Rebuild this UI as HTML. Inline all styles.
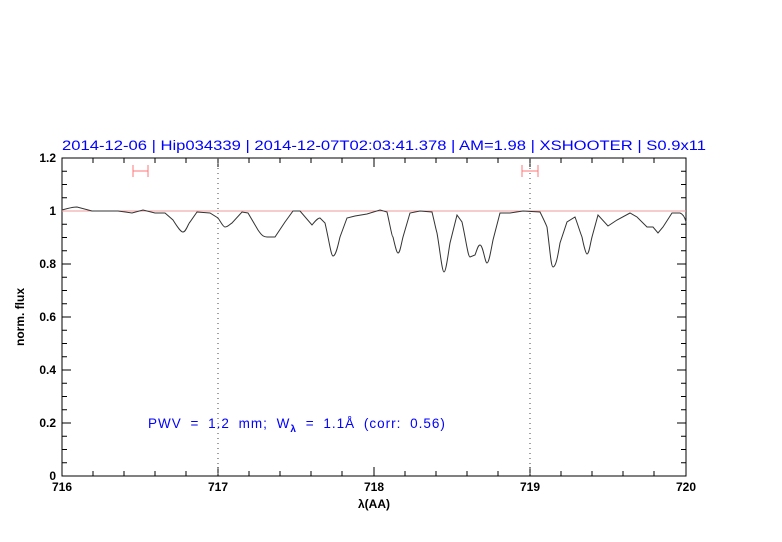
<!DOCTYPE html>
<html><head><meta charset="utf-8"><style>body{margin:0;background:#fff}svg{display:block}</style></head><body>
<svg width="782" height="542" xmlns="http://www.w3.org/2000/svg" font-family="Liberation Sans, sans-serif">
<rect width="782" height="542" fill="#fff"/>
<text x="62" y="150" font-size="13.5" fill="#0000ff" textLength="644" lengthAdjust="spacingAndGlyphs">2014-12-06 | Hip034339 | 2014-12-07T02:03:41.378 | AM=1.98 | XSHOOTER | S0.9x11</text>
<g stroke="#000" stroke-width="1" fill="none">
<rect x="62" y="158" width="624" height="318"/>
<path d="
M93,476v-5M124,476v-5M155,476v-5M186,476v-5M218,476v-9M249,476v-5M280,476v-5M311,476v-5M342,476v-5M374,476v-9M405,476v-5M436,476v-5M467,476v-5M498,476v-5M530,476v-9M561,476v-5M592,476v-5M623,476v-5M654,476v-5
M93,158v5M124,158v5M155,158v5M186,158v5M218,158v9M249,158v5M280,158v5M311,158v5M342,158v5M374,158v9M405,158v5M436,158v5M467,158v5M498,158v5M530,158v9M561,158v5M592,158v5M623,158v5M654,158v5
"/>
</g>
<g stroke="#000">
<path d="M62,462.75h5M62,449.5h5M62,436.25h5M62,423h9M62,409.75h5M62,396.5h5M62,383.25h5M62,370h9M62,356.75h5M62,343.5h5M62,330.25h5M62,317h9M62,303.75h5M62,290.5h5M62,277.25h5M62,264h9M62,250.75h5M62,237.5h5M62,224.25h5M62,211h9M62,197.75h5M62,184.5h5M62,171.25h5"/>
<path d="M686,462.75h-5M686,449.5h-5M686,436.25h-5M686,423h-9M686,409.75h-5M686,396.5h-5M686,383.25h-5M686,370h-9M686,356.75h-5M686,343.5h-5M686,330.25h-5M686,317h-9M686,303.75h-5M686,290.5h-5M686,277.25h-5M686,264h-9M686,250.75h-5M686,237.5h-5M686,224.25h-5M686,211h-9M686,197.75h-5M686,184.5h-5M686,171.25h-5"/>
</g>
<g stroke="#444" stroke-dasharray="1,4"><path d="M218,158V476M530,158V476"/></g>
<line x1="62" y1="211" x2="686" y2="211" stroke="#e99" stroke-width="1"/>
<g stroke="#f77" fill="none"><path d="M133,165v12M148,165v12M133,171h15M522,165v12M538,165v12M522,171h16"/></g>
<path fill="none" stroke="#333" stroke-width="1" d="M62,210 C70,208 72,207 77,207 L92,211 118,211 132,213 143,210 155,213 165,213 173,220 C178,228 181,232 183,232 C186,232 188,224 190,222 L197,212 210,213 218,218 C221,222 223,227 225,227 C228,227 230,224 232,223 L242,212 248,213 258,230 C262,236 264,237 267,237 L275,237 285,222 293,211 300,211 312,225 C316,220 318,218 320,218 L325,223 C329,240 331,256 333,256 C336,256 338,245 340,237 L347,218 355,216 367,214 380,210 387,212 C390,225 392,237 393,237 C396,250 397,253 398,253 C400,253 401,245 403,237 L410,213 420,211 432,212 C434,220 436,230 437,233 C440,250 442,272 444,272 C446,272 448,255 450,243 L457,215 462,222 C466,240 468,257 470,257 L475,255 C477,250 478,245 480,245 C483,245 485,263 487,263 C489,263 491,250 493,240 L500,213 510,213 523,211 540,212 C543,218 545,222 547,227 C550,250 551,267 553,267 C556,267 558,255 560,243 L567,222 575,217 C578,225 580,232 582,237 C584,247 586,254 587,254 C589,254 590,245 592,237 L598,215 608,226 617,220 630,213 637,217 647,227 653,227 658,233 663,227 672,213 680,213 C683,214 685,218 686,222"/>
<g font-size="12" font-weight="bold" fill="#000" text-anchor="end">
<text x="56" y="480">0</text><text x="56" y="427">0.2</text><text x="56" y="374">0.4</text><text x="56" y="321">0.6</text><text x="56" y="268">0.8</text><text x="56" y="215">1</text><text x="56" y="162">1.2</text>
</g>
<g font-size="12" font-weight="bold" fill="#000" text-anchor="middle">
<text x="62" y="491">716</text><text x="218" y="491">717</text><text x="374" y="491">718</text><text x="530" y="491">719</text><text x="686" y="491">720</text>
<text x="374" y="508">λ(AA)</text>
</g>
<text transform="translate(24,317) rotate(-90)" font-size="12" font-weight="bold" text-anchor="middle">norm. flux</text>
<text x="148" y="428" font-size="13.5" fill="#0000ff" letter-spacing="1" word-spacing="4">PWV = 1.2 mm; W<tspan font-size="10" dy="4" font-weight="bold">λ</tspan><tspan dy="-4"> = 1.1Å (corr: 0.56)</tspan></text>
</svg>
</body></html>
